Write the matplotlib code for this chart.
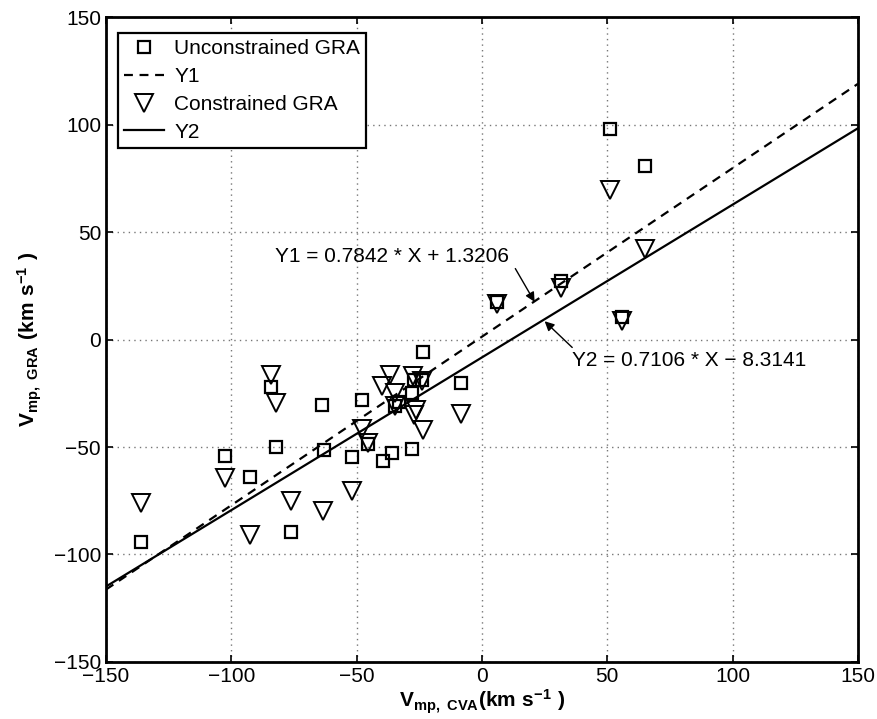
import numpy as np
import matplotlib
matplotlib.use("Agg")
import matplotlib.pyplot as plt

plt.rcParams['font.family'] = ['Liberation Sans', 'DejaVu Sans']
plt.rcParams['mathtext.fontset'] = 'custom'
plt.rcParams['mathtext.rm'] = 'Liberation Sans'
plt.rcParams['mathtext.bf'] = 'Liberation Sans:bold'

# unconstrained GRA vs CVA (km/s)
unc_x = [-136, -102.5, -92.5, -76, -84, -82, -64, -63, -52, -48, -45.5, -39.5, -36,
         -28, -34.5, -33, -28, -27, -24, -23.5, -8.5, 6, 31.5, 51, 65, 56]
unc_y = [-94, -54, -64, -89.5, -22, -50, -30.5, -51.5, -54.5, -28, -48.5, -56.5, -53,
         -51, -31, -29, -25, -19, -19, -6, -20, 17.5, 27, 98, 80.5, 10.5]

# constrained GRA
con_x = [-136, -102.5, -92.5, -84, -82, -76, -63.5, -52, -48, -45.5, -40, -36.5, -34.5,
         -34.5, -27.5, -24, -26.5, -27, -23.5, -8.5, 6, 31.5, 51, 65, 56]
con_y = [-76, -64.5, -91, -16.5, -29.5, -75, -80, -70.5, -41.5, -48, -21.5, -16.5, -25,
         -31, -17, -19.5, -33, -35, -42, -34.5, 16.5, 24, 69.5, 42, 8.5]

# fits
a1, b1 = 0.7842, 1.3206
a2, b2 = 0.7106, -8.3141
xfit = np.array([-150, 150])

fig = plt.figure(figsize=(8.78, 7.19), dpi=100)
ax = fig.add_axes([0.1207, 0.0793, 0.8565, 0.897])

ax.plot(unc_x, unc_y, 's', ms=9, mfc='none', mec='k', mew=1.6, ls='none',
        label='Unconstrained GRA')
ax.plot(xfit, a1 * xfit + b1, 'k--', lw=1.6, dashes=(4, 3), label='Y1')
ax.plot(con_x, con_y, 'v', ms=13, mfc='none', mec='k', mew=1.4, ls='none',
        label='Constrained GRA')
ax.plot(xfit, a2 * xfit + b2, 'k-', lw=1.6, label='Y2')

ax.set_xlim(-150, 150)
ax.set_ylim(-150, 150)
ticks = np.arange(-150, 151, 50)
ax.set_xticks(ticks)
ax.set_yticks(ticks)
ax.tick_params(direction='in', top=True, right=True, length=5, width=1.2,
               labelsize=15)
ax.grid(True, ls=(0, (1, 3)), color='#777777', lw=1)
for s in ax.spines.values():
    s.set_linewidth(2)

ax.set_xlabel(r'$\mathbf{V_{mp,\ CVA}(km\ s^{-1}\ )}$', fontsize=15, labelpad=1)
ax.set_ylabel(r'$\mathbf{V_{mp,\ GRA}\ (km\ s^{-1}\ )}$', fontsize=15, labelpad=7)

ax.text(-82.4, 38.7, 'Y1 = 0.7842 * X + 1.3206', fontsize=15, ha='left', va='center')
ax.annotate('', xy=(21, 17.5), xytext=(13.3, 33),
            arrowprops=dict(arrowstyle='-|>', color='k', lw=1, mutation_scale=14,
                            shrinkA=0, shrinkB=0))
ax.text(36.1, -9.6, 'Y2 = 0.7106 * X \u2212 8.3141', fontsize=15, ha='left', va='center')
ax.annotate('', xy=(25, 8.5), xytext=(36, -3.7),
            arrowprops=dict(arrowstyle='-|>', color='k', lw=1, mutation_scale=14,
                            shrinkA=0, shrinkB=0))

leg = ax.legend(loc='upper left', bbox_to_anchor=(0.016, 0.975), borderaxespad=0,
                fontsize=15, fancybox=False, framealpha=1, edgecolor='k',
                handlelength=1.9, handletextpad=0.5, labelspacing=0.42,
                borderpad=0.3)
leg.get_frame().set_linewidth(1.6)

fig.savefig('out.png', dpi=100)
